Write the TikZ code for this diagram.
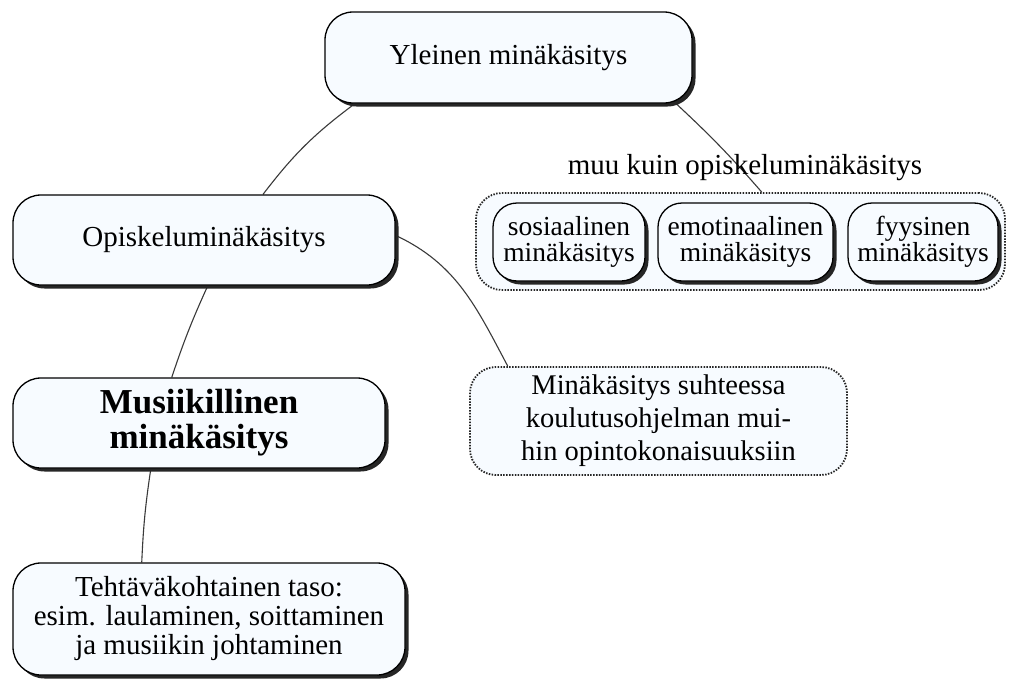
\documentclass[tikz,border=0pt]{standalone}
\usepackage{fontspec}
\setmainfont{Liberation Serif}
\usetikzlibrary{calc,shadows,backgrounds}
\definecolor{boxfill}{HTML}{F7FBFF}
\definecolor{linkgray}{HTML}{3A3A3A}
\begin{document}
\begin{tikzpicture}[x=1pt,y=-1pt,
  txt/.style={font=\fontsize{29}{29}\selectfont, align=center},
  box/.style={txt, draw=black, line width=1.3pt, fill=boxfill, rounded corners=28pt, inner sep=0pt,
    drop shadow={shadow xshift=3.5pt, shadow yshift=-3.5pt, fill=black!85, opacity=1}},
  smallbox/.style={box, rounded corners=24pt, minimum height=78pt, font=\fontsize{27.5}{26}\selectfont},
  dotbox/.style={txt, draw=black!85, line width=1.8pt, dash pattern=on 1.5pt off 1.4pt,
    fill=boxfill, rounded corners=26pt, inner sep=0pt},
  link/.style={draw=linkgray, line width=1.1pt}]
  \useasboundingbox (0,0) rectangle (1009,680);

  % main hierarchy
  \node[box, minimum width=367pt, minimum height=91pt] (top) at (508.5,57.5) {Yleinen minäkäsitys};
  \node[box, minimum width=382pt, minimum height=90pt] (opis) at (204,240) {Opiskeluminäkäsitys};
  \node[box, minimum width=372pt, minimum height=90pt,
        font=\fontsize{35}{35}\selectfont\bfseries] (mus) at (199,423) {Musiikillinen\\minäkäsitys};
  \node[box, minimum width=392pt, minimum height=112pt] (teht) at (209,619)
        {Tehtäväkohtainen taso:\\esim. laulaminen, soittaminen\\ja musiikin johtaminen};

  % other study units
  \node[dotbox, minimum width=377pt, minimum height=108pt, font=\fontsize{28.5}{33}\selectfont] (rel) at (658.5,421)
        {Minäkäsitys suhteessa\\koulutusohjelman mui-\\hin opintokonaisuuksiin};

  % non-study self-concepts
  \node[txt] (muu) at (745,168) {muu kuin opiskeluminäkäsitys};
  \node[dotbox, minimum width=529pt, minimum height=97pt] (grp) at (740.5,241.5) {};
  \node[smallbox, minimum width=152pt] (sos) at (569,242) {sosiaalinen\\minäkäsitys};
  \node[smallbox, minimum width=175pt] (emo) at (745.5,242) {emotinaalinen\\minäkäsitys};
  \node[smallbox, minimum width=150pt] (fyy) at (923,242) {fyysinen\\minäkäsitys};

  % connectors, behind the boxes
  \begin{scope}[on background layer]
    \fill[white] (0,0) rectangle (1009,680);
    \draw[link] ($(top.south west)!0.083!(top.south east)$) to[bend right=8]
                ($(opis.north west)!0.654!(opis.north east)$);
    \draw[link] ($(top.south west)!0.955!(top.south east)$) to[bend left=3]
                ($(grp.north west)!0.54!(grp.north east)$);
    \draw[link] ($(opis.north east)!0.45!(opis.south east)$) to[out=-25, in=118]
                ($(rel.north west)!0.102!(rel.north east)$);
    \draw[link] ($(opis.south west)!0.51!(opis.south east)$) to[bend right=3]
                ($(mus.north west)!0.427!(mus.north east)$);
    \draw[link] ($(mus.south west)!0.371!(mus.south east)$) to[bend right=3]
                ($(teht.north west)!0.329!(teht.north east)$);
  \end{scope}
\end{tikzpicture}
\end{document}
